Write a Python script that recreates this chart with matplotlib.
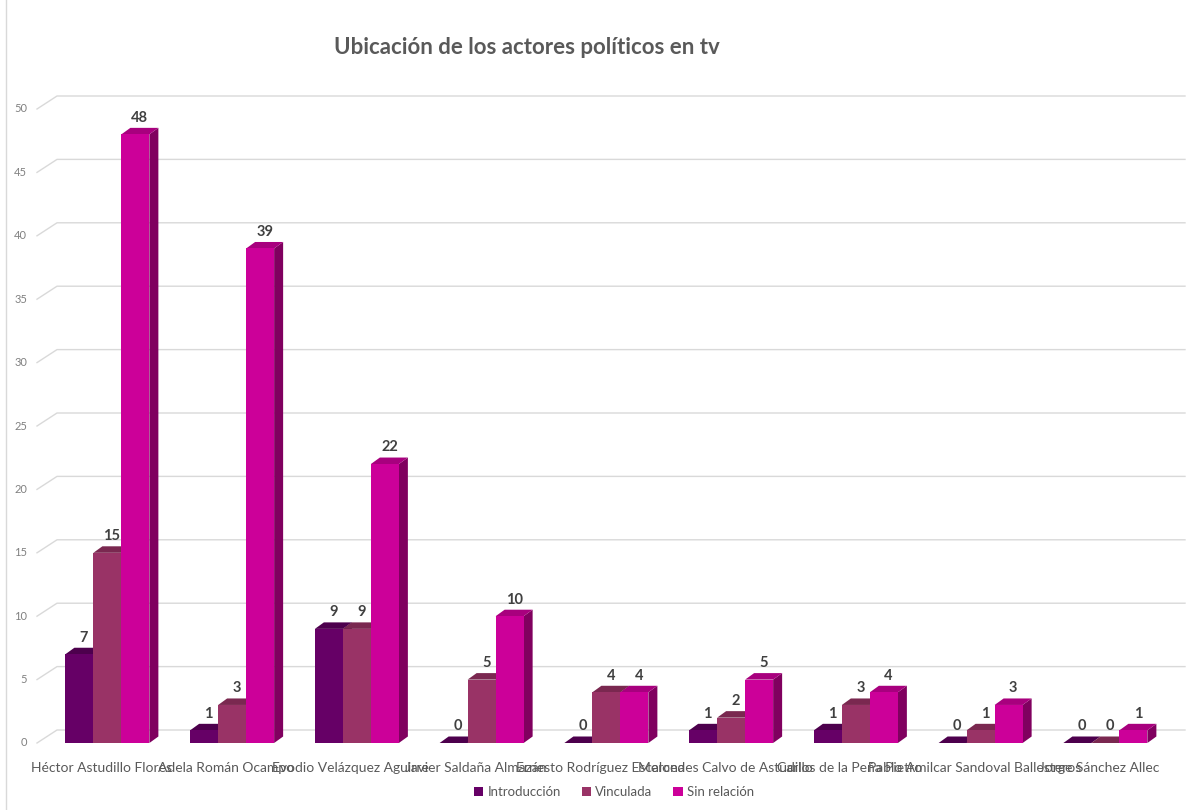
import matplotlib
matplotlib.use("Agg")
import matplotlib.pyplot as plt
from matplotlib.patches import Polygon, Patch

plt.rcParams['font.family'] = ['Lato', 'DejaVu Sans']

# Data
actores = ["Héctor Astudillo Flores", "Adela Román Ocampo", "Evodio Velázquez Aguirre",
           "Javier Saldaña Almazán", "Ernesto Rodríguez Escalona", "Mercedes Calvo de Astudillo",
           "Carlos de la Peña Pietro", "Pablo Amilcar Sandoval Ballesteros", "Jorge Sánchez Allec"]
series = ["Introducción", "Vinculada", "Sin relación"]
introduccion = [7, 1, 9, 0, 0, 1, 1, 0, 0]
vinculada = [15, 3, 9, 5, 4, 2, 3, 1, 0]
sin_relacion = [48, 39, 22, 10, 4, 5, 4, 3, 1]
y_ticks = list(range(0, 55, 5))

valores = [introduccion, vinculada, sin_relacion]
front_col = ["#660066", "#993366", "#cc0099"]
top_col = ["#4d004d", "#7a2850", "#a8007e"]
side_col = ["#4a004a", "#6e2249", "#80005f"]

fig = plt.figure(figsize=(11.93, 8.10), dpi=100)
W, H = 1193, 810
px_x = 124.75   # pixels per category
px_y = 12.68    # pixels per unit
left_px, zero_px = 45, 743
ax = fig.add_axes([left_px / W, (H - zero_px) / H, 1125 / W, 53 * px_y / H])
ax.set_xlim(-0.5, -0.5 + 1125 / px_x)
ax.set_ylim(0, 53)
ax.axis('off')

# faint chart border on the left
fig.add_artist(plt.Line2D([6 / W, 6 / W], [0, 1], color="#d9d9d9", lw=1))

# 3D offsets (data units)
wall_dx, wall_dy = 20 / px_x, 13 / px_y
bar_dx, bar_dy = 9 / px_x, 6.5 / px_y
w = 28 / px_x

# back wall gridlines with slanted connectors
x_diag0 = (37 - left_px) / px_x - 0.5
x_end = (1185 - left_px) / px_x - 0.5
for v in y_ticks:
    ax.plot([x_diag0, x_diag0 + wall_dx, x_end], [v, v + wall_dy, v + wall_dy],
            color="#d9d9d9", lw=1, clip_on=False, zorder=0)
    ax.text((27 - left_px) / px_x - 0.5, v, str(v), ha='right', va='center',
            fontsize=8, color="#808080")

# bars with fake 3D faces
for i in range(len(actores)):
    for j in range(len(series)):
        v = valores[j][i]
        x = i + (j - 1) * w
        x0, x1 = x - w / 2, x + w / 2
        z = 2 + j * 3
        ax.add_patch(Polygon([(x1, 0), (x1, v), (x1 + bar_dx, v + bar_dy), (x1 + bar_dx, bar_dy)],
                             closed=True, facecolor=side_col[j], edgecolor='none', zorder=z))
        ax.add_patch(Polygon([(x0, v), (x1, v), (x1 + bar_dx, v + bar_dy), (x0 + bar_dx, v + bar_dy)],
                             closed=True, facecolor=top_col[j], edgecolor='none', zorder=z + 1))
        ax.bar(x, v, width=w, color=front_col[j], zorder=z + 2)
        ax.text(x + bar_dx / 2, v + bar_dy + 0.25, str(v), ha='center', va='bottom',
                fontsize=10.5, fontweight='bold', color="#404040", zorder=20)

for i, nombre in enumerate(actores):
    ax.text(i - 0.05, -(768 - zero_px) / px_y, nombre, ha='center', va='center',
            fontsize=10, color="#595959", clip_on=False)

fig.text(527 / W, 1 - 47 / H, "Ubicación de los actores políticos en tv", ha='center', va='center',
         fontsize=16, fontweight='bold', color="#595959")

handles = [Patch(facecolor=c, edgecolor='none') for c in front_col]
fig.legend(handles, series, loc='center', bbox_to_anchor=(614 / W, 1 - 792 / H), ncol=3,
           frameon=False, fontsize=9.5, labelcolor="#595959", handlelength=0.7, handleheight=0.7,
           handletextpad=0.3, columnspacing=1.6)

fig.savefig("out.png", dpi=100)
